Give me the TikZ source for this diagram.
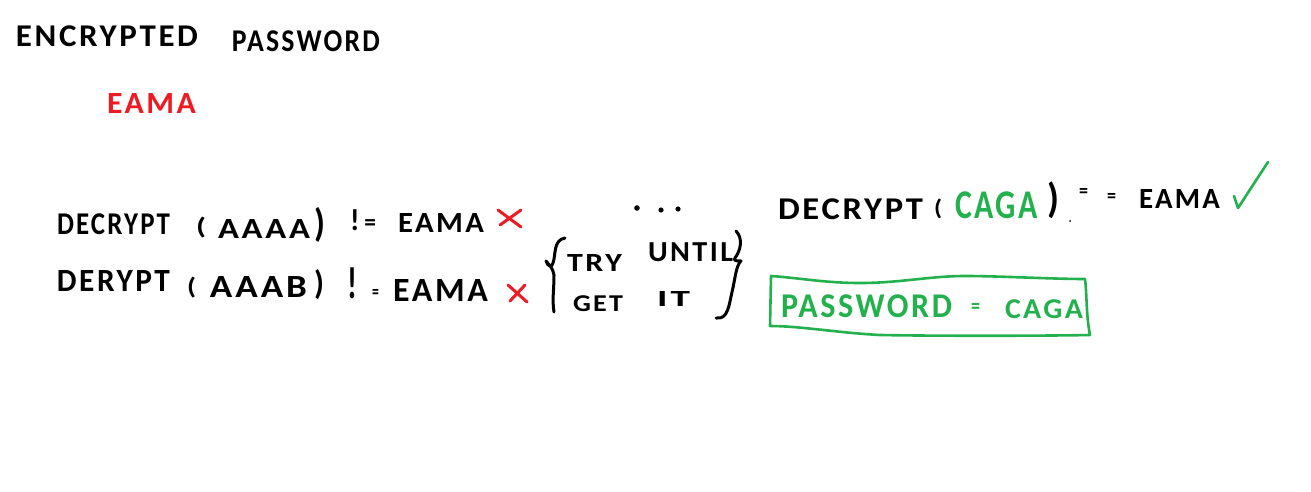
\documentclass[tikz,border=0pt]{standalone}
\usepackage{graphicx}
\usepackage{fontspec}
\setmainfont{Carlito}[BoldFont=Carlito Bold,LetterSpace=8]
\definecolor{pred}{HTML}{ED1C24}
\definecolor{pgreen}{HTML}{22B14C}
\tikzset{
  hand/.style={inner sep=0pt,outer sep=0pt,font=\bfseries\fontsize{24}{24}\selectfont},
  stroke/.style={line width=3pt,line cap=round,line join=round},
  thinstroke/.style={line width=2.6pt,line cap=round,line join=round}
}
% name, x0,y0,x1,y1, colour, text: the text fills the given pixel box
\newcommand\hw[7]{\node[hand,text=#6] (#1) at ({(#2+#4)/2},{(#3+#5)/2}) {\resizebox*{\dimexpr#4pt-#2pt\relax}{\dimexpr#5pt-#3pt\relax}{#7}};}
\begin{document}
\begin{tikzpicture}[x=1pt,y=-1pt]
\useasboundingbox (0,0) rectangle (1311,492);
\fill[white] (0,0) rectangle (1311,492);
% heading
\hw{enc}{16}{26}{198}{47}{black}{ENCRYPTED}
\hw{pass}{232}{31}{380}{52}{black}{PASSWORD}
\hw{eama}{107}{94}{196}{114}{pred}{EAMA}
% row 1
\hw{dec1}{57}{214}{170}{235}{black}{DECRYPT}
\hw{op1}{196}{217}{206}{238}{black}{(}
\hw{aaaa}{218}{219}{310}{238}{black}{AAAA}
\hw{cp1}{314}{207}{325}{242}{black}{)}
\hw{ne1}{350}{210}{376}{231}{black}{!\,\scalebox{.8}{=}}
\hw{e1}{398}{213}{484}{232}{black}{EAMA}
\draw[stroke,pred] (498,210) -- (521,227) (521,210) -- (500,225);
% row 2
\hw{dec2}{57}{270}{170}{291}{black}{DERYPT}
\hw{op2}{187}{277}{196}{298}{black}{(}
\hw{aaab}{210}{276}{307}{297}{black}{AAAB}
\hw{cp2}{314}{270}{324}{300}{black}{)}
\hw{ne2}{347}{268}{379}{299}{black}{!\hspace{.5em}\scalebox{.45}{=}}
\hw{e2}{393}{279}{488}{301}{black}{EAMA}
\draw[stroke,pred] (508,285) -- (527,302) (525,285) -- (510,301);
% dots
\fill (637,208) circle (2.8pt) (661,210) circle (2.6pt) (678,209) circle (2.6pt);
% brace group
\draw[stroke] (565,238) .. controls (553,240) and (556,255) .. (553,263) .. controls (552,268) and (548,267) .. (546,261) .. controls (549,265) and (553,268) .. (554,275) .. controls (554,290) and (552,300) .. (554,312);
\hw{try}{567}{254}{622}{271}{black}{TRY}
\hw{until}{648}{243}{733}{262}{black}{UNTIL}
\hw{get}{573}{296}{623}{312}{black}{GET}
\hw{it}{657}{291}{690}{306}{black}{IT}
\draw[stroke] (736,231) .. controls (743,238) and (741,250) .. (735,258) .. controls (733,261) and (737,261) .. (741,261) .. controls (736,265) and (735,280) .. (732,292) .. controls (729,305) and (728,320) .. (716,318);
% result line
\hw{dec3}{778}{199}{923}{220}{black}{DECRYPT}
\hw{op3}{934}{199}{942}{219}{black}{(}
\hw{caga}{955}{192}{1038}{219}{pgreen}{CAGA}
\hw{cp3}{1047}{182}{1059}{219}{black}{)}
\hw{eq3a}{1079}{188}{1088}{197}{black}{=}
\hw{eq3b}{1107}{193}{1116}{202}{black}{=}
\fill (1070,221) circle (1pt);
\hw{e3}{1139}{189}{1220}{208}{black}{EAMA}
\draw[thinstroke,pgreen] (1234,196) -- (1238,208) -- (1268,162);
% boxed answer
\hw{pw}{781}{295}{952}{318}{pgreen}{PASSWORD}
\hw{eq4}{971}{303}{980}{313}{pgreen}{=}
\hw{caga2}{1005}{300}{1083}{319}{pgreen}{CAGA}
\draw[thinstroke,pgreen] (771,276) .. controls (800,278) and (825,283) .. (860,283) .. controls (900,283) and (930,276) .. (965,276) .. controls (1000,276) and (1050,279) .. (1085,279) .. controls (1087,295) and (1086,315) .. (1090,335) .. controls (1040,336) and (930,336) .. (880,335) .. controls (840,333) and (800,326) .. (770,326) -- cycle;
\end{tikzpicture}
\end{document}
